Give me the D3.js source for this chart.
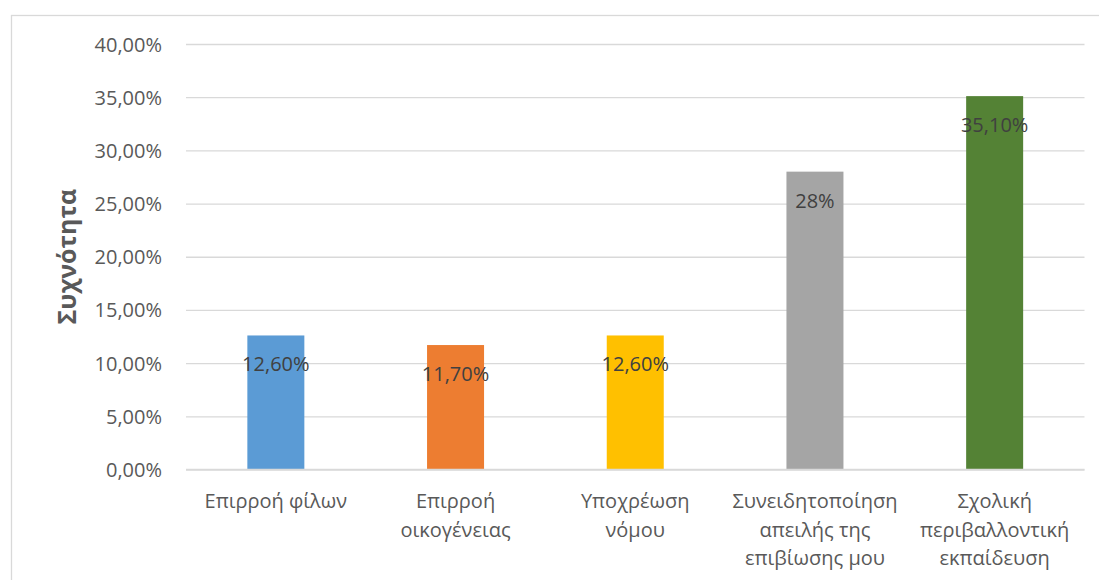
<!DOCTYPE html>
<html>
<head>
<meta charset="utf-8">
<script src="https://cdn.jsdelivr.net/npm/d3@7"></script>
<style>
  html, body { margin: 0; padding: 0; background: #fff; }
  svg { display: block; }
  text { font-family: "Open Sans", "Noto Sans", sans-serif; }
</style>
</head>
<body>
<svg id="chart" width="1099" height="580"></svg>
<script>
const categories = [
  ["Επιρροή φίλων"],
  ["Επιρροή", "οικογένειας"],
  ["Υποχρέωση", "νόμου"],
  ["Συνειδητοποίηση", "απειλής της", "επιβίωσης μου"],
  ["Σχολική", "περιβαλλοντική", "εκπαίδευση"]
];
const values = [12.6, 11.7, 12.6, 28, 35.1];
const valueLabels = ["12,60%", "11,70%", "12,60%", "28%", "35,10%"];
const barColors = ["#5B9BD5", "#ED7D31", "#FFC000", "#A5A5A5", "#548235"];
const yTicks = [0, 5, 10, 15, 20, 25, 30, 35, 40];
const yTickLabels = ["0,00%", "5,00%", "10,00%", "15,00%", "20,00%", "25,00%", "30,00%", "35,00%", "40,00%"];
const yTitle = "Συχνότητα";

const svg = d3.select("#chart");
const mLeft = 186, mRight = 1084.5, mTop = 44, mBottom = 469.5;

// chart border
svg.append("rect")
  .attr("x", 11.5).attr("y", 15.5).attr("width", 1200).attr("height", 700)
  .attr("fill", "none").attr("stroke", "#D9D9D9").attr("stroke-width", 1.3);

const x = d3.scaleBand().domain(d3.range(categories.length)).range([mLeft, mRight]).paddingInner(0).paddingOuter(0);
const y = d3.scaleLinear().domain([0, 40]).range([mBottom, mTop]);

// gridlines
const yAxis = d3.axisLeft(y).tickValues(yTicks).tickSize(-(mRight - mLeft)).tickFormat((d, i) => yTickLabels[i]).tickPadding(24);
const gy = svg.append("g").attr("transform", `translate(${mLeft},0)`).call(yAxis);
gy.select(".domain").remove();
gy.selectAll(".tick line").attr("stroke", "#D9D9D9").attr("stroke-width", 1.3);
gy.selectAll(".tick text").attr("fill", "#595959").style("font-size", "20px").attr("dy", "0.35em");

// bars
const barW = 57;
svg.append("g").selectAll("rect").data(values).join("rect")
  .attr("x", (d, i) => x(i) + x.bandwidth() / 2 - barW / 2)
  .attr("width", barW)
  .attr("y", d => y(d))
  .attr("height", d => y(0) - y(d))
  .attr("fill", (d, i) => barColors[i]);

// redraw baseline over bars
svg.append("line").attr("x1", mLeft).attr("x2", mRight).attr("y1", y(0)).attr("y2", y(0))
  .attr("stroke", "#D9D9D9").attr("stroke-width", 1.3);

// data labels
svg.append("g").selectAll("text").data(values).join("text")
  .attr("x", (d, i) => x(i) + x.bandwidth() / 2)
  .attr("y", d => y(d) + 36)
  .attr("text-anchor", "middle")
  .attr("fill", "#404040")
  .style("font-size", "20px")
  .text((d, i) => valueLabels[i]);

// category labels
const cat = svg.append("g").selectAll("text").data(categories).join("text")
  .attr("x", (d, i) => x(i) + x.bandwidth() / 2)
  .attr("y", 508)
  .attr("text-anchor", "middle")
  .attr("fill", "#595959")
  .style("font-size", "20px");
cat.selectAll("tspan").data(d => d).join("tspan")
  .attr("x", function () { return d3.select(this.parentNode).attr("x"); })
  .attr("dy", (d, j) => j === 0 ? 0 : 28.5)
  .text(d => d);

// y title
svg.append("text")
  .attr("transform", `translate(76,${(mTop + mBottom) / 2}) rotate(-90)`)
  .attr("text-anchor", "middle")
  .attr("fill", "#595959")
  .style("font-size", "25px")
  .style("font-weight", "bold")
  .text(yTitle);
</script>
</body>
</html>
